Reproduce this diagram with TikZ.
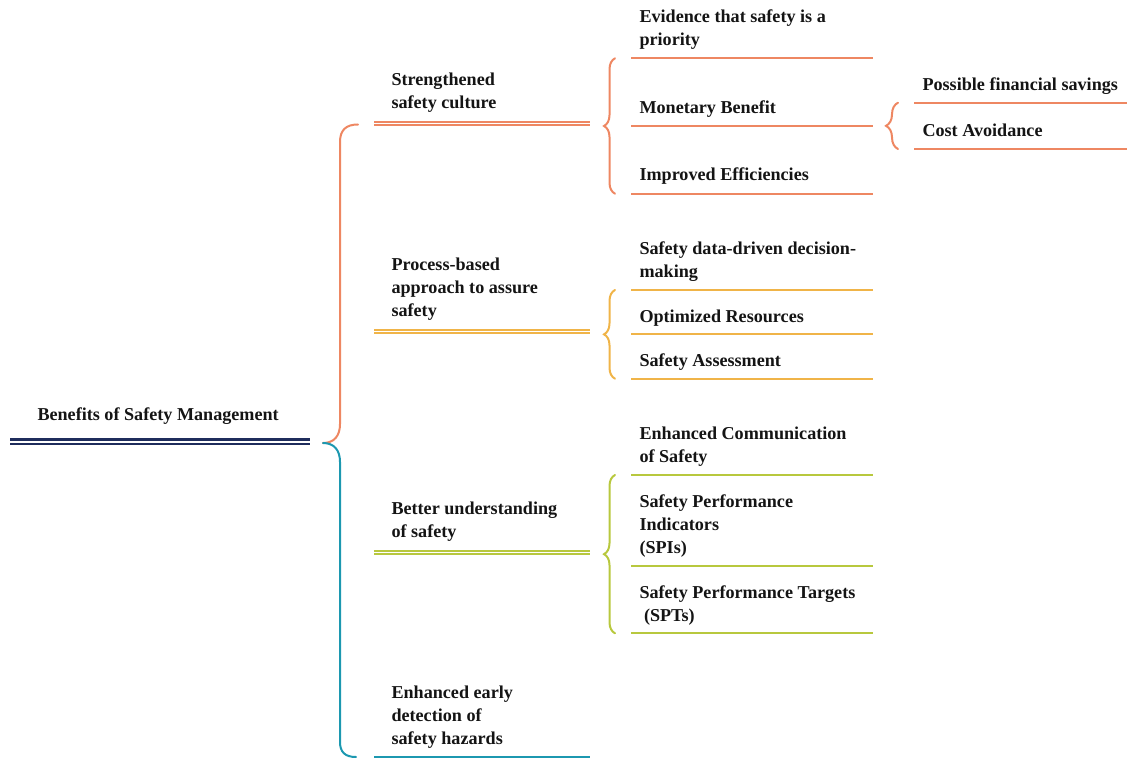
\documentclass[tikz,border=0pt]{standalone}
\usepackage{fontspec}
\setmainfont{Liberation Serif}
\usetikzlibrary{decorations.pathreplacing}

\definecolor{navyline}{RGB}{31,45,92}
\definecolor{orangeline}{RGB}{238,135,98}
\definecolor{yellowline}{RGB}{240,180,72}
\definecolor{greenline}{RGB}{184,200,62}
\definecolor{blueline}{RGB}{28,152,176}
\definecolor{labelink}{RGB}{20,20,20}

\tikzset{every picture/.style={line width=0.75pt}}
\tikzset{
  label text/.style={anchor=base west, inner sep=0pt, align=left, text=labelink,
    font=\fontsize{13.6}{17.25}\selectfont\bfseries},
  twin line/.style={double=white, double distance=1.3pt, line width=1.5pt},
  under line/.style={line width=1.5pt},
  side brace/.style={line width=1.5pt, line cap=round, decorate,
    decoration={brace, amplitude=8.25pt}},
}

\begin{document}
\begin{tikzpicture}[x=0.75pt,y=0.75pt,yscale=-1,xscale=1]
\path[use as bounding box] (0,0) rectangle (1127,759);

% Root
\node[label text] (root) at (37,420) {Benefits of Safety Management};
\coordinate (rootL) at (10,441.7);
\coordinate (rootR) at (310,441.7);
\draw[navyline, twin line, double distance=1.7pt, line width=1.9pt] (rootL) -- (rootR);

% Big brace
\coordinate (bigTop) at (358,124.5);
\coordinate (bigTip) at (323,443);
\coordinate (bigBot) at (356,757);
\draw[orangeline, line width=1.5pt, line cap=round] (bigTop) .. controls (346,124.5) and (340,130) .. (340,142) -- (340,424) .. controls (340,436) and (334,443) .. (bigTip);
\draw[blueline, line width=1.5pt, line cap=round] (bigTip) .. controls (334,443) and (340,450) .. (340,462) -- (340,742) .. controls (340,752) and (345,757) .. (bigBot);

% Level 1 texts
\node[label text] (culture) at (391,108.5) {Strengthened\\safety culture};
\node[label text] (process) at (391,316.5) {Process-based\\approach to assure\\safety};
\node[label text] (understand) at (391,537.5) {Better understanding\\of safety};
\node[label text] (detection) at (391,744) {Enhanced early\\detection of\\safety hazards};

% Level 1 lines
\coordinate (cultureL) at (374,123.5);
\coordinate (cultureR) at (590,123.5);
\coordinate (processL) at (374,331.5);
\coordinate (processR) at (590,331.5);
\coordinate (understandL) at (374,552.5);
\coordinate (understandR) at (590,552.5);
\coordinate (detectionL) at (374,757);
\coordinate (detectionR) at (590,757);
\draw[orangeline, twin line] (cultureL) -- (cultureR);
\draw[yellowline, twin line] (processL) -- (processR);
\draw[greenline, twin line] (understandL) -- (understandR);
\draw[blueline, under line] (detectionL) -- (detectionR);

% Level 2 texts
\node[label text] (evidence) at (639,46) {Evidence that safety is a\\priority};
\node[label text] (monetary) at (639,114) {Monetary Benefit};
\node[label text] (efficiency) at (639,181) {Improved Efficiencies};
\node[label text] (datadriven) at (639,277.5) {Safety data-driven decision-\\making};
\node[label text] (resources) at (639,322) {Optimized Resources};
\node[label text] (assessment) at (639,366.5) {Safety Assessment};
\node[label text] (communication) at (639,462.5) {Enhanced Communication\\of Safety};
\node[label text] (spis) at (639,553.3) {Safety Performance\\Indicators\\(SPIs)};
\node[label text] (spts) at (639,621) {Safety Performance Targets\\\ (SPTs)};

% Level 2 lines
\foreach \name/\y/\col in {evidence/58.3/orangeline, monetary/126/orangeline, efficiency/193.7/orangeline,
  datadriven/290/yellowline, resources/334.3/yellowline, assessment/378.7/yellowline,
  communication/475/greenline, spis/565.7/greenline, spts/633.3/greenline}{
  \coordinate (\name L) at (631,\y);
  \coordinate (\name R) at (873,\y);
  \draw[\col, under line] (\name L) -- (\name R);
}

% Level 2 braces
\coordinate (cultureTop) at (615,58.3);
\coordinate (cultureBot) at (615,193.7);
\coordinate (processTop) at (615,290);
\coordinate (processBot) at (615,378.7);
\coordinate (understandTop) at (615,475);
\coordinate (understandBot) at (615,633.3);
\draw[orangeline, side brace] (cultureBot) -- (cultureTop);
\draw[yellowline, side brace] (processBot) -- (processTop);
\draw[greenline, side brace] (understandBot) -- (understandTop);

% Level 3
\node[label text] (savings) at (922,91) {Possible financial savings};
\node[label text] (avoidance) at (922,136.5) {Cost Avoidance};
\coordinate (savingsL) at (914,102.7);
\coordinate (savingsR) at (1127,102.7);
\coordinate (avoidanceL) at (914,149);
\coordinate (avoidanceR) at (1127,149);
\draw[orangeline, under line] (savingsL) -- (savingsR);
\draw[orangeline, under line] (avoidanceL) -- (avoidanceR);
\coordinate (monetaryTop) at (898,102.7);
\coordinate (monetaryBot) at (898,149);
\draw[orangeline, side brace, decoration={amplitude=9pt}] (monetaryBot) -- (monetaryTop);

\end{tikzpicture}
\end{document}
